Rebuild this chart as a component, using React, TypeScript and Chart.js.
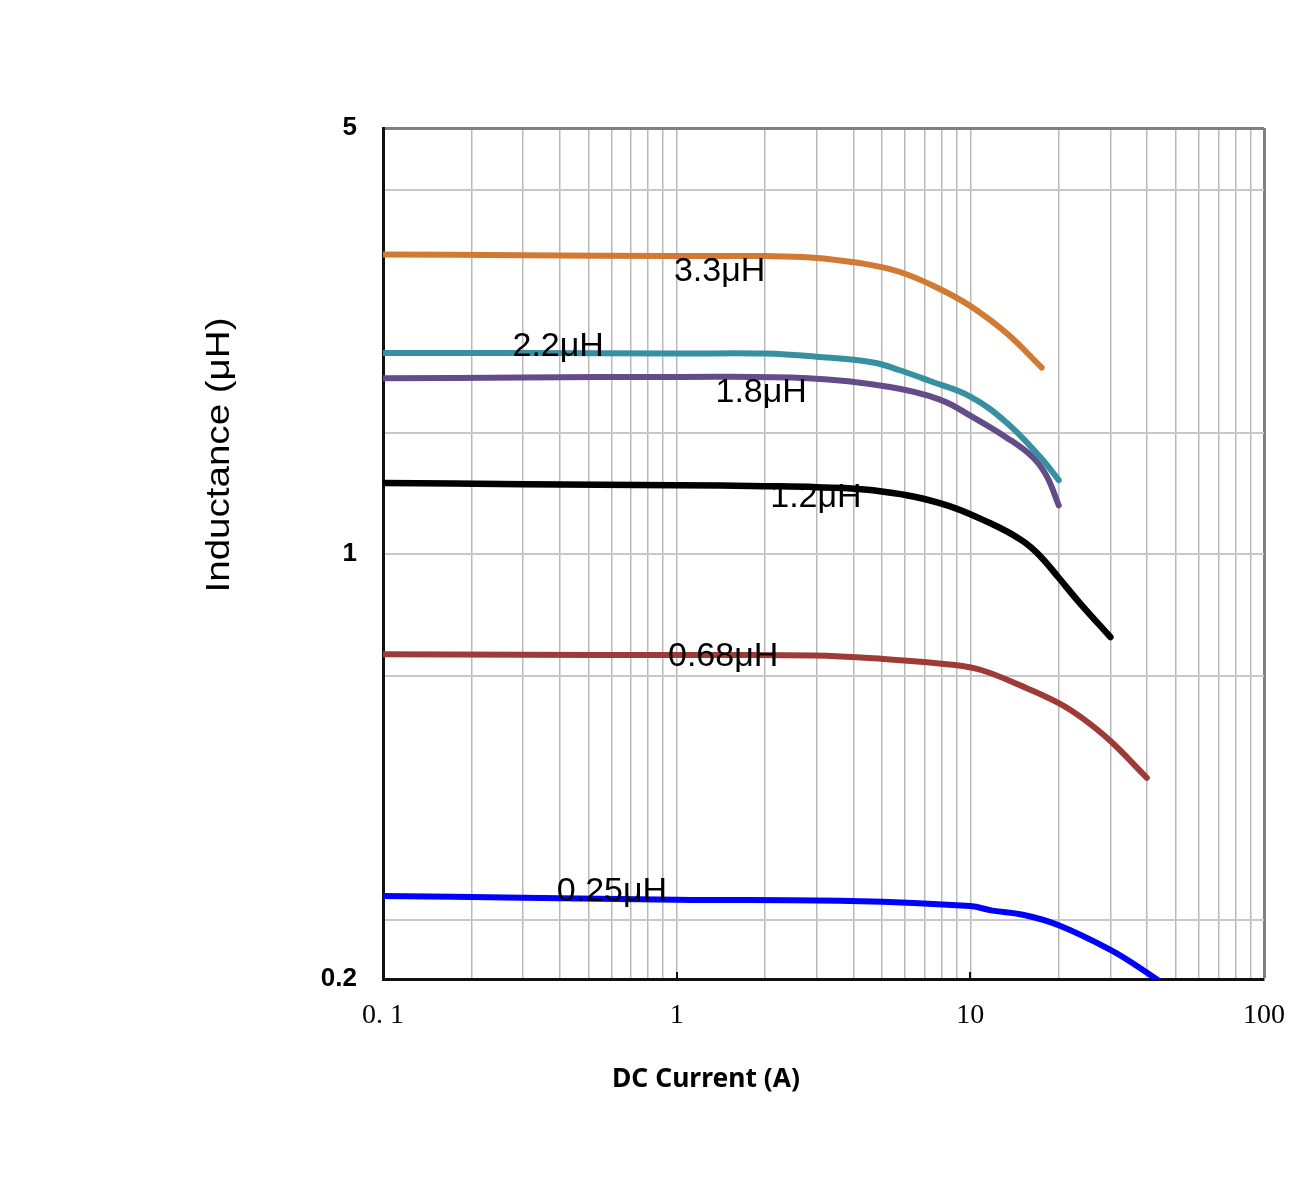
import React, { useEffect, useRef } from 'react';
import { Chart, registerables } from 'chart.js';

Chart.register(...registerables);

// ---- data (DC current in A, inductance in µH) ----
const seriesNames = ['3.3μH', '2.2μH', '1.8μH', '1.2μH', '0.68μH', '0.25μH'];
const seriesColors = ['#D27A33', '#3790A2', '#644C88', '#000000', '#9F3B37', '#0000FF'];

const current33 = [0.1, 0.3, 1, 2, 2.85, 4.2, 5.76, 7.87, 10, 13.3, 17.5];
const induct33 = [3.10, 3.09, 3.08, 3.08, 3.065, 3.00, 2.90, 2.72, 2.55, 2.30, 2.02];

const current22 = [0.1, 0.3, 1, 2, 3, 4.66, 5.76, 7.28, 10, 13.3, 17.3, 20];
const induct22 = [2.135, 2.135, 2.13, 2.13, 2.105, 2.06, 2.00, 1.92, 1.81, 1.64, 1.44, 1.32];

const current18 = [0.1, 0.3, 1, 2.8, 5.32, 7.87, 10.2, 13.3, 16.3, 18.2, 20];
const induct18 = [1.94, 1.945, 1.95, 1.94, 1.877, 1.79, 1.675, 1.55, 1.44, 1.34, 1.20];

const current12 = [0.1, 0.3, 1, 2, 3, 4.66, 7.87, 11.66, 15.1, 17.3, 19.9, 23.6, 30];
const induct12 = [1.306, 1.30, 1.295, 1.29, 1.285, 1.27, 1.21, 1.122, 1.048, 0.99, 0.915, 0.829, 0.729];

const current068 = [0.1, 0.3, 1, 2.93, 5.04, 8.86, 10.95, 14.7, 20, 24, 30, 39.9];
const induct068 = [0.683, 0.682, 0.681, 0.68, 0.671, 0.656, 0.643, 0.608, 0.568, 0.537, 0.492, 0.428];

const current025 = [0.1, 0.3, 1, 3.89, 10, 11.9, 15.1, 19.9, 30, 38.7, 45];
const induct025 = [0.2738, 0.272, 0.270, 0.2686, 0.2635, 0.259, 0.255, 0.2453, 0.2233, 0.207, 0.197];

const seriesCurrents = [current33, current22, current18, current12, current068, current025];
const seriesInducts = [induct33, induct22, induct18, induct12, induct068, induct025];

// curve label anchors (data coordinates)
const labelCurrent = [1.40, 0.395, 1.94, 2.98, 1.44, 0.602];
const labelInduct = [2.90, 2.184, 1.835, 1.234, 0.676, 0.278];

// axes
const xTickValues = [0.1, 0.2, 0.3, 0.4, 0.5, 0.6, 0.7, 0.8, 0.9, 1, 2, 3, 4, 5, 6, 7, 8, 9, 10, 20, 30, 40, 50, 60, 70, 80, 90, 100];
const xTickLabels: Record<string, string> = { '0.1': '0. 1', '1': '1', '10': '10', '100': '100' };
const xMajorTicks = [1, 10];
const yGridValues = [0.2, 0.25, 0.628, 1, 1.577, 3.96, 5];
const yTickLabels: Record<string, string> = { '0.2': '0.2', '1': '1', '5': '5' };
const xTitle = 'DC Current (A)';
const yTitle = 'Inductance (μH)';

const annotationPlugin = {
  id: 'annotations',
  afterDatasetsDraw(chart: any) {
    const ctx = chart.ctx;
    const xs = chart.scales.x;
    const ys = chart.scales.y;
    const area = chart.chartArea;
    ctx.save();
    // small inward tick marks at decades on the bottom axis
    ctx.strokeStyle = '#111';
    ctx.lineWidth = 2;
    xMajorTicks.forEach((v) => {
      const px = Math.round(xs.getPixelForValue(v));
      ctx.beginPath();
      ctx.moveTo(px, area.bottom);
      ctx.lineTo(px, area.bottom - 7);
      ctx.stroke();
    });
    ctx.fillStyle = '#000';
    ctx.font = '34px "Liberation Sans", Arial, sans-serif';
    ctx.textAlign = 'center';
    ctx.textBaseline = 'middle';
    seriesNames.forEach((name, i) => {
      ctx.fillText(name, xs.getPixelForValue(labelCurrent[i]), ys.getPixelForValue(labelInduct[i]));
    });
    ctx.restore();
  },
  afterDraw(chart: any) {
    const ctx = chart.ctx;
    ctx.save();
    ctx.fillStyle = '#000';
    // y title
    ctx.font = '33px "Liberation Sans", Arial, sans-serif';
    ctx.textAlign = 'center';
    ctx.textBaseline = 'middle';
    const wy = ctx.measureText(yTitle).width;
    ctx.translate(220, 455);
    ctx.rotate(-Math.PI / 2);
    ctx.scale(275 / wy, 1);
    ctx.fillText(yTitle, 0, 0);
    ctx.restore();
    // x title
    ctx.save();
    ctx.fillStyle = '#000';
    ctx.font = 'bold 27px "Noto Sans", "Open Sans", sans-serif';
    ctx.textAlign = 'center';
    ctx.textBaseline = 'middle';
    const wx = ctx.measureText(xTitle).width;
    ctx.translate(706, 1079);
    ctx.scale(188 / wx, 1);
    ctx.fillText(xTitle, 0, 0);
    ctx.restore();
  },
};

export default function App() {
  const canvasRef = useRef<HTMLCanvasElement | null>(null);

  useEffect(() => {
    if (!canvasRef.current) return;
    const datasets = seriesNames.map((name, i) => ({
      label: name,
      data: seriesCurrents[i].map((c, j) => ({ x: c, y: seriesInducts[i][j] })),
      borderColor: seriesColors[i],
      backgroundColor: seriesColors[i],
      borderWidth: i === 3 ? 6.5 : 6,
      borderCapStyle: 'round' as const,
      borderJoinStyle: 'round' as const,
      pointRadius: 0,
      tension: 0.4,
      fill: false,
    }));

    const chart = new Chart(canvasRef.current, {
      type: 'line',
      data: { datasets },
      plugins: [annotationPlugin],
      options: {
        animation: false,
        responsive: false,
        devicePixelRatio: 1,
        layout: { padding: { top: 128, right: 36, bottom: 0, left: 0 } },
        plugins: { legend: { display: false }, tooltip: { enabled: false }, title: { display: false } },
        scales: {
          x: {
            type: 'logarithmic',
            min: 0.1,
            max: 100,
            afterFit: (s: any) => { s.height = 221; s.paddingLeft = 0; s.paddingRight = 0; },
            afterBuildTicks: (s: any) => { s.ticks = xTickValues.map((v) => ({ value: v })); },
            ticks: {
              autoSkip: false,
              maxRotation: 0,
              minRotation: 0,
              padding: 20,
              color: '#000',
              font: { family: '"Liberation Serif", "Times New Roman", serif', size: 28 },
              callback: (v: any) => xTickLabels[String(v)] ?? '',
            },
            grid: {
              drawTicks: false,
              color: (c: any) => (c.tick && c.tick.value === 100 ? '#808080' : '#b9b9b9'),
              lineWidth: (c: any) => (c.tick && c.tick.value === 100 ? 3 : 1.5),
            },
            border: { display: true, color: '#111', width: 3 },
          },
          y: {
            type: 'logarithmic',
            min: 0.2,
            max: 5,
            afterFit: (s: any) => { s.width = 383; s.paddingTop = 0; s.paddingBottom = 0; },
            afterBuildTicks: (s: any) => { s.ticks = yGridValues.map((v) => ({ value: v })); },
            ticks: {
              autoSkip: false,
              padding: 26,
              color: '#000',
              font: { family: '"Liberation Sans", Arial, sans-serif', size: 26, weight: 'bold' },
              callback: (v: any) => yTickLabels[String(v)] ?? '',
            },
            grid: {
              drawTicks: false,
              color: (c: any) => (c.tick && c.tick.value === 5 ? '#808080' : '#c8c8c8'),
              lineWidth: (c: any) => (c.tick && c.tick.value === 5 ? 3 : 2),
            },
            border: { display: true, color: '#111', width: 3 },
          },
        },
      },
    });
    return () => chart.destroy();
  }, []);

  return (
    <div style={{ position: 'absolute', left: 0, top: 0, width: 1300, height: 1200, background: '#fff' }}>
      <canvas ref={canvasRef} width={1300} height={1200} style={{ display: 'block', width: 1300, height: 1200 }} />
    </div>
  );
}
